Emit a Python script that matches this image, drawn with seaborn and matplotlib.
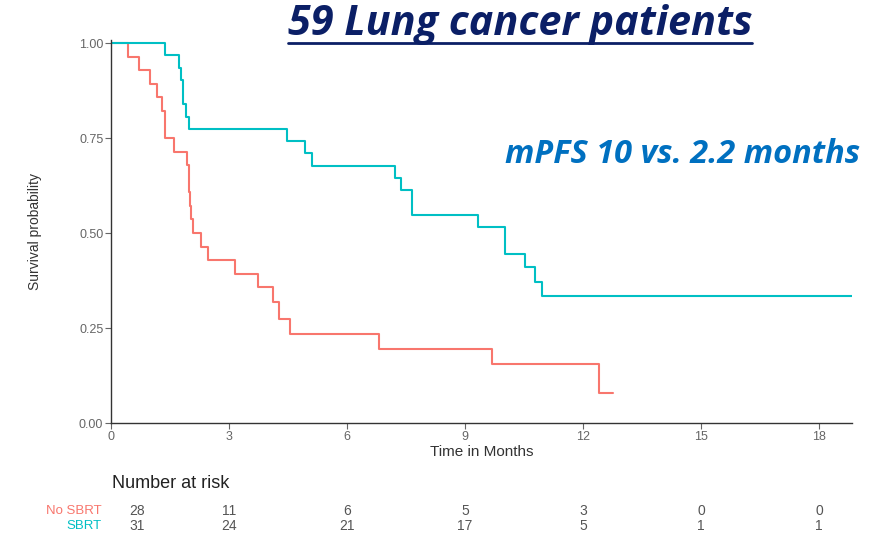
import numpy as np
import pandas as pd
import matplotlib
matplotlib.use("Agg")
import matplotlib.pyplot as plt
import matplotlib.transforms as mtransforms
from matplotlib.lines import Line2D
import seaborn as sns

# ---------------- data ----------------
nosbrt_time = [0, 0.44, 0.71, 0.98, 1.16, 1.29, 1.37, 1.60, 1.94, 1.98, 2.01,
               2.04, 2.09, 2.29, 2.46, 3.15, 3.73, 4.13, 4.28, 4.54, 6.82,
               9.68, 12.41, 12.77]
nosbrt_surv = [1.0, 0.964, 0.929, 0.893, 0.857, 0.821, 0.750, 0.714, 0.679,
               0.607, 0.571, 0.536, 0.500, 0.464, 0.429, 0.393, 0.357, 0.318,
               0.273, 0.234, 0.195, 0.156, 0.078, 0.078]

sbrt_time = [0, 1.37, 1.73, 1.78, 1.83, 1.90, 1.98, 4.47, 4.93, 5.10, 7.22,
             7.37, 7.65, 9.32, 10.03, 10.53, 10.78, 10.95, 18.84]
sbrt_surv = [1.0, 0.968, 0.935, 0.903, 0.839, 0.806, 0.774, 0.742, 0.710,
             0.677, 0.645, 0.613, 0.548, 0.516, 0.445, 0.410, 0.370, 0.333,
             0.333]

groups = ["No SBRT", "SBRT"]
risk_times = [0, 3, 6, 9, 12, 15, 18]
risk_nosbrt = [28, 11, 6, 5, 3, 0, 0]
risk_sbrt = [31, 24, 21, 17, 5, 1, 1]
x_ticks = [0, 3, 6, 9, 12, 15, 18]
y_ticks = [0.0, 0.25, 0.50, 0.75, 1.00]

title = "59 Lung cancer patients"
subtitle = "mPFS 10 vs. 2.2 months"

colors = {"No SBRT": "#F8766D", "SBRT": "#00BFC4"}

df = pd.concat([
    pd.DataFrame({"time": nosbrt_time, "surv": nosbrt_surv, "group": groups[0]}),
    pd.DataFrame({"time": sbrt_time, "surv": sbrt_surv, "group": groups[1]}),
], ignore_index=True)

# ---------------- figure ----------------
sns.set_theme(style="ticks")
plt.rcParams["font.family"] = ["Liberation Sans", "DejaVu Sans"]

W, H = 892, 534
fig = plt.figure(figsize=(W / 100, H / 100), dpi=100)
ax = fig.add_axes([111 / W, 1 - 423 / H, (852 - 111) / W, (423 - 40) / H])

sns.lineplot(data=df, x="time", y="surv", hue="group", palette=colors,
             drawstyle="steps-post", estimator=None, sort=False,
             legend=False, linewidth=1.5, ax=ax)

ax.set_xlim(0, 18.84)
ax.set_ylim(0, 1.008)
ax.set_xticks(x_ticks)
ax.set_xticklabels([str(t) for t in x_ticks])
ax.set_yticks(y_ticks)
ax.set_yticklabels([f"{v:.2f}" for v in y_ticks])
ax.tick_params(axis="both", labelsize=9, colors="#666666", length=4,
               width=0.8, pad=1.5)
for s in ["left", "bottom"]:
    ax.spines[s].set_color("#333333")
    ax.spines[s].set_linewidth(1.0)
sns.despine(ax=ax)

ax.set_xlabel("Time in Months", fontsize=11, color="#333333")
ax.set_ylabel("Survival probability", fontsize=10, color="#333333")
ax.xaxis.set_label_coords(0.5, -(445 - 423) / (423 - 40))
ax.yaxis.set_label_coords((42 - 111) / (852 - 111), 0.5)

# risk table
fig.text(112 / W, 1 - 484 / H, "Number at risk", fontsize=13,
         color="#222222", ha="left", va="center")
trans = mtransforms.blended_transform_factory(ax.transData, fig.transFigure)
rows = [(groups[0], risk_nosbrt, 1 - 511 / H), (groups[1], risk_sbrt, 1 - 526 / H)]
for name, vals, yy in rows:
    fig.text(102 / W, yy, name, fontsize=9.5, color=colors[name],
             ha="right", va="center")
    for t, v in zip(risk_times, vals):
        off = mtransforms.offset_copy(trans, fig=fig, x=26 if t == 0 else 0,
                                      y=0, units="dots")
        fig.text(t, yy, str(v), fontsize=10, color="#555555", ha="center",
                 va="center", transform=off)

# title texts (fit to the reference's text widths)
t1 = fig.text(520 / W, 1 - 35 / H, title, fontsize=28, fontweight="bold",
              fontstyle="italic", color="#0B1F66", ha="center",
              va="baseline", family=["Open Sans", "DejaVu Sans"])
t2 = fig.text(683 / W, 1 - 163 / H, subtitle, fontsize=23, fontweight="bold",
              fontstyle="italic", color="#0070C0", ha="center",
              va="baseline", family=["Open Sans", "DejaVu Sans"])
fig.canvas.draw()
for txt, target in [(t1, 465), (t2, 357)]:
    w = txt.get_window_extent().width
    txt.set_fontsize(txt.get_fontsize() * target / w)

fig.canvas.draw()
bb = t1.get_window_extent()
uy = 1 - 43 / H
fig.add_artist(Line2D([bb.x0 / W, bb.x1 / W], [uy, uy], color="#0B1F66",
                      linewidth=2.0, transform=fig.transFigure))

fig.savefig("out.png", dpi=100)
